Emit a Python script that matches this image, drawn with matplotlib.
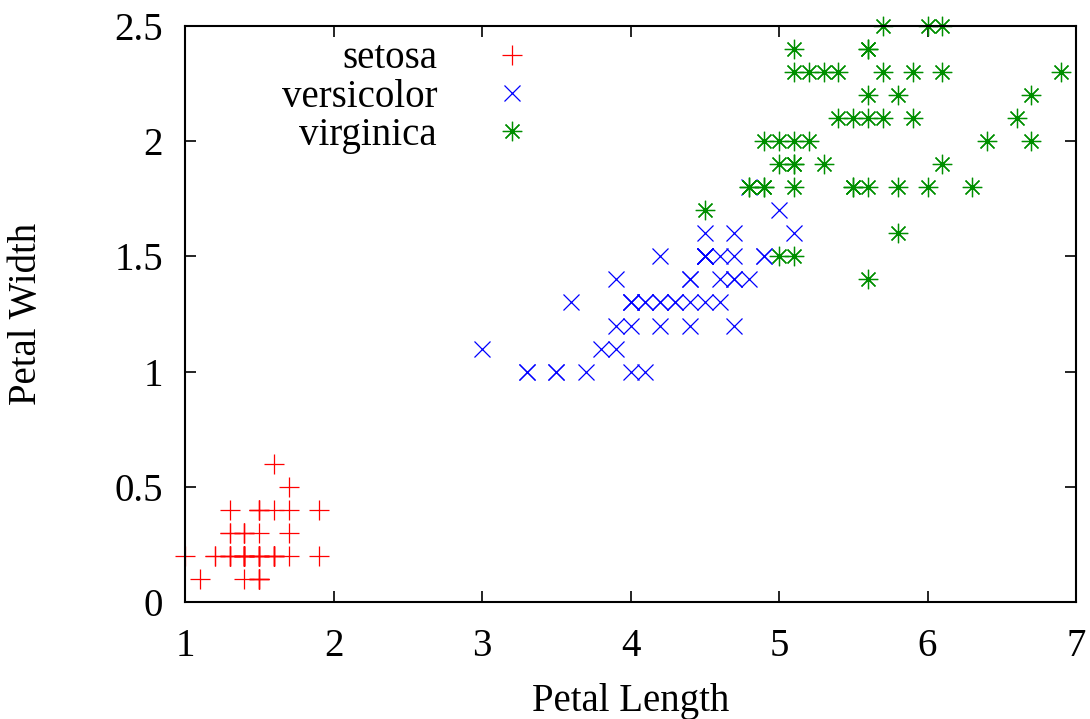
import matplotlib.pyplot as plt

# petal length / petal width per species
setosa_len = [1.4, 1.4, 1.3, 1.5, 1.4, 1.7, 1.4, 1.5, 1.4, 1.5, 1.5, 1.6, 1.4, 1.1, 1.2, 1.5, 1.3,
              1.4, 1.7, 1.5, 1.7, 1.5, 1.0, 1.7, 1.9, 1.6, 1.6, 1.5, 1.4, 1.6, 1.6, 1.5, 1.5, 1.4,
              1.5, 1.2, 1.3, 1.5, 1.3, 1.5, 1.3, 1.3, 1.3, 1.6, 1.9, 1.4, 1.6, 1.4, 1.5, 1.4]
setosa_wid = [0.2, 0.2, 0.2, 0.2, 0.2, 0.4, 0.3, 0.2, 0.2, 0.1, 0.2, 0.2, 0.1, 0.1, 0.2, 0.4, 0.4,
              0.3, 0.3, 0.3, 0.2, 0.4, 0.2, 0.5, 0.2, 0.2, 0.4, 0.2, 0.2, 0.2, 0.2, 0.4, 0.1, 0.2,
              0.1, 0.2, 0.2, 0.1, 0.2, 0.2, 0.3, 0.3, 0.2, 0.6, 0.4, 0.3, 0.2, 0.2, 0.2, 0.2]

versicolor_len = [4.7, 4.5, 4.9, 4.0, 4.6, 4.5, 4.7, 3.3, 4.6, 3.9, 3.5, 4.2, 4.0, 4.7, 3.6, 4.4,
                  4.5, 4.1, 4.5, 3.9, 4.8, 4.0, 4.9, 4.7, 4.3, 4.4, 4.8, 5.0, 4.5, 3.5, 3.8, 3.7,
                  3.9, 5.1, 4.5, 4.5, 4.7, 4.4, 4.1, 4.0, 4.4, 4.6, 4.0, 3.3, 4.2, 4.2, 4.2, 4.3,
                  3.0, 4.1]
versicolor_wid = [1.4, 1.5, 1.5, 1.3, 1.5, 1.3, 1.6, 1.0, 1.3, 1.4, 1.0, 1.5, 1.0, 1.4, 1.3, 1.4,
                  1.5, 1.0, 1.5, 1.1, 1.8, 1.3, 1.5, 1.2, 1.3, 1.4, 1.4, 1.7, 1.5, 1.0, 1.1, 1.0,
                  1.2, 1.6, 1.5, 1.6, 1.5, 1.3, 1.3, 1.3, 1.2, 1.4, 1.2, 1.0, 1.3, 1.2, 1.3, 1.3,
                  1.1, 1.3]

virginica_len = [6.0, 5.1, 5.9, 5.6, 5.8, 6.6, 4.5, 6.3, 5.8, 6.1, 5.1, 5.3, 5.5, 5.0, 5.1, 5.3,
                 5.5, 6.7, 6.9, 5.0, 5.7, 4.9, 6.7, 4.9, 5.7, 6.0, 4.8, 4.9, 5.6, 5.8, 6.1, 6.4,
                 5.6, 5.1, 5.6, 6.1, 5.6, 5.5, 4.8, 5.4, 5.6, 5.1, 5.1, 5.9, 5.7, 5.2, 5.0, 5.2,
                 5.4, 5.1]
virginica_wid = [2.5, 1.9, 2.1, 1.8, 2.2, 2.1, 1.7, 1.8, 1.8, 2.5, 2.0, 1.9, 2.1, 2.0, 2.4, 2.3,
                 1.8, 2.2, 2.3, 1.5, 2.3, 2.0, 2.0, 1.8, 2.1, 1.8, 1.8, 1.8, 2.1, 1.6, 1.9, 2.0,
                 2.2, 1.5, 1.4, 2.3, 2.4, 1.8, 1.8, 2.1, 2.4, 2.3, 1.9, 2.3, 2.5, 2.3, 1.9, 2.0,
                 2.3, 1.8]

xticks = [1, 2, 3, 4, 5, 6, 7]
yticks = [0, 0.5, 1, 1.5, 2, 2.5]
yticklabels = ['0', '0.5', '1', '1.5', '2', '2.5']

plt.rcParams['font.family'] = ['Liberation Serif', 'DejaVu Serif']

fig = plt.figure(figsize=(10.9, 7.19), dpi=100)
ax = fig.add_axes([185/1090, 1 - 602/719, (1076 - 185)/1090, (602 - 26)/719])

ax.plot(setosa_len, setosa_wid, ls='none', marker='+', ms=14, mew=0.9, color='#ff0000',
        label='setosa', clip_on=False)
ax.plot(versicolor_len, versicolor_wid, ls='none', marker='x', ms=12, mew=0.9, color='#0000ff',
        label='versicolor', clip_on=False)
ax.plot(virginica_len, virginica_wid, ls='none', marker=(8, 2, 0), ms=14, mew=0.9,
        color='#008f00', label='virginica', clip_on=False)

ax.set_xlim(1, 7)
ax.set_ylim(0, 2.5)
ax.set_xticks(xticks)
ax.set_yticks(yticks)
ax.set_yticklabels(yticklabels)
ax.tick_params(direction='in', length=8, width=1.2, top=True, right=True, labelsize=28)
ax.tick_params(axis='x', pad=19)
ax.tick_params(axis='y', pad=16)
for s in ax.spines.values():
    s.set_linewidth(1.5)

ax.set_xlabel('Petal Length', fontsize=28)
ax.set_ylabel('Petal Width', fontsize=28)
ax.xaxis.set_label_coords(0.5, -0.141)
ax.yaxis.set_label_coords(-0.157, 0.5)

ax.legend(loc='upper right', bbox_to_anchor=(0.389, 0.975), frameon=False, markerfirst=False,
          fontsize=28, handlelength=1.0, handletextpad=1.43, labelspacing=0.03,
          borderpad=0, borderaxespad=0)

fig.savefig('out.png', dpi=100)
